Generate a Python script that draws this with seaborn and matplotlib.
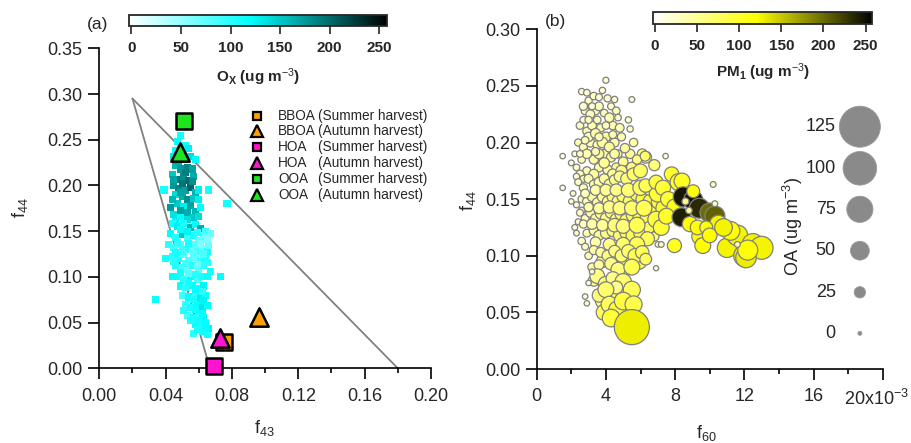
import numpy as np
import pandas as pd
import matplotlib
matplotlib.use("Agg")
import matplotlib.pyplot as plt
import matplotlib.transforms as mtransforms
import seaborn as sns
from matplotlib.colors import LinearSegmentedColormap, Normalize
from matplotlib.cm import ScalarMappable
from matplotlib.lines import Line2D

# ---------------- data: panel (a), f44 vs f43 coloured by Ox ----------------
a_f43 = [
    0.049, 0.047, 0.052, 0.045, 0.050, 0.055, 0.058, 0.046, 0.049, 0.053,
    0.056, 0.044, 0.047, 0.051, 0.054, 0.057, 0.045, 0.048, 0.052, 0.055,
    0.058, 0.046, 0.050, 0.053, 0.060, 0.039, 0.066, 0.077, 0.043, 0.047,
    0.051, 0.055, 0.058, 0.061, 0.045, 0.049, 0.053, 0.057, 0.060,
    0.046, 0.054, 0.048, 0.052, 0.045, 0.050, 0.056, 0.049, 0.044, 0.057,
    0.049, 0.053, 0.046, 0.060,
    0.044, 0.047, 0.051, 0.055, 0.058, 0.061, 0.064, 0.067, 0.043, 0.046,
    0.050, 0.053, 0.057, 0.060, 0.063, 0.042, 0.045, 0.049, 0.052, 0.056,
    0.059, 0.062, 0.065, 0.044, 0.048, 0.051, 0.054, 0.058, 0.061, 0.064,
    0.040, 0.046, 0.050, 0.053, 0.056, 0.060, 0.063, 0.067, 0.073, 0.047,
    0.051, 0.055, 0.059, 0.062,
    0.049, 0.053, 0.059, 0.065, 0.047, 0.054, 0.058, 0.061, 0.066, 0.046,
    0.050, 0.057, 0.063, 0.045, 0.052, 0.059, 0.065, 0.049, 0.054, 0.058,
    0.065, 0.044,
    0.049, 0.052, 0.056, 0.060, 0.063, 0.050, 0.054, 0.058, 0.061, 0.064,
    0.034, 0.052, 0.055, 0.059, 0.062, 0.065, 0.053, 0.057, 0.060, 0.063,
    0.058, 0.061, 0.064, 0.062, 0.065, 0.057, 0.066,
    0.054, 0.058, 0.062, 0.057, 0.063, 0.051, 0.058, 0.062, 0.055, 0.060,
    0.064, 0.059,
]
a_f44 = [
    0.255, 0.248, 0.244, 0.232, 0.228, 0.232, 0.228, 0.222, 0.218, 0.220,
    0.218, 0.212, 0.207, 0.210, 0.205, 0.210, 0.200, 0.197, 0.195, 0.198,
    0.192, 0.190, 0.188, 0.185, 0.195, 0.195, 0.195, 0.180, 0.176, 0.180,
    0.177, 0.178, 0.172, 0.176, 0.168, 0.166, 0.170, 0.165, 0.166,
    0.238, 0.240, 0.226, 0.214, 0.206, 0.202, 0.204, 0.192, 0.185, 0.186,
    0.173, 0.163, 0.160, 0.185,
    0.158, 0.155, 0.158, 0.154, 0.157, 0.153, 0.150, 0.147, 0.147, 0.143,
    0.146, 0.142, 0.145, 0.140, 0.143, 0.135, 0.132, 0.135, 0.130, 0.133,
    0.128, 0.131, 0.128, 0.122, 0.120, 0.124, 0.118, 0.121, 0.117, 0.121,
    0.120, 0.112, 0.110, 0.108, 0.112, 0.108, 0.112, 0.106, 0.100, 0.100,
    0.097, 0.100, 0.097, 0.100,
    0.152, 0.150, 0.149, 0.141, 0.138, 0.137, 0.135, 0.136, 0.134, 0.127,
    0.128, 0.126, 0.125, 0.117, 0.115, 0.114, 0.116, 0.105, 0.104, 0.103,
    0.100, 0.100,
    0.090, 0.088, 0.091, 0.087, 0.090, 0.080, 0.078, 0.082, 0.077, 0.080,
    0.075, 0.070, 0.067, 0.070, 0.066, 0.069, 0.058, 0.056, 0.060, 0.055,
    0.048, 0.046, 0.050, 0.040, 0.037, 0.038, 0.044,
    0.093, 0.086, 0.084, 0.075, 0.074, 0.063, 0.064, 0.060, 0.052, 0.052,
    0.044, 0.042,
]
a_ox = [
    110, 120, 115, 130, 150, 140, 120, 160, 175, 185,
    170, 150, 190, 180, 200, 165, 175, 185, 170, 205,
    160, 140, 165, 180, 130, 110, 110, 110, 175, 150,
    130, 170, 160, 120, 135, 120, 165, 150, 140,
    120, 130, 165, 190, 170, 195, 180, 170, 160, 150,
    170, 140, 125, 130,
    110, 130, 110, 160, 120, 165, 90, 70, 120, 105,
    150, 90, 110, 80, 75, 100, 90, 80, 100, 70,
    90, 65, 110, 100, 110, 70, 85, 75, 95, 110,
    110, 105, 90, 70, 100, 80, 100, 110, 120, 115,
    100, 120, 90, 110,
    115, 125, 100, 60, 100, 110, 80, 60, 70, 110,
    95, 80, 85, 100, 90, 70, 100, 110, 80, 100,
    115, 120,
    115, 100, 120, 110, 125, 90, 120, 100, 130, 115,
    115, 95, 110, 120, 135, 120, 90, 110, 100, 125,
    120, 110, 120, 115, 110, 100, 125,
    110, 120, 100, 110, 125, 100, 115, 120, 105, 115,
    120, 110,
]

# PMF factor profiles
em_factor = ["BBOA", "BBOA", "HOA", "HOA", "OOA", "OOA"]
em_season = ["Summer harvest", "Autumn harvest"] * 3
em_f43 = [0.0751, 0.0960, 0.0693, 0.0727, 0.0512, 0.0488]
em_f44 = [0.0291, 0.0560, 0.0030, 0.0328, 0.2708, 0.2370]

# triangle boundaries (f43, f44)
tri_left_f43 = [0.020, 0.0667]
tri_left_f44 = [0.295, 0.000]
tri_right_f43 = [0.020, 0.180]
tri_right_f44 = [0.295, 0.000]

# ---------------- data: panel (b), f44 vs f60 (x1e-3) sized by OA, coloured by PM1 ----------------
b_f60 = [
    2.6, 3.0, 2.8, 3.3, 3.6, 3.8, 4.1, 4.3, 3.4, 3.9,
    2.5, 2.9, 3.2, 3.7, 4.4, 2.4, 2.7, 3.1, 3.5, 4.0,
    4.5, 4.9, 3.3, 2.6, 2.3, 3.9, 4.3, 4.7, 5.3, 5.4,
    5.5, 4.0, 2.2, 1.5, 1.5, 2.0, 3.6, 2.9, 4.1, 4.6,
    5.0, 5.4, 5.6, 6.1, 6.3, 6.8, 7.45,
    2.7, 3.1, 3.6, 4.2, 4.6, 4.8, 3.0, 3.4, 3.8, 4.2,
    2.9, 3.6, 4.5, 5.1, 2.5, 3.3, 3.9, 4.4, 4.9, 5.5,
    5.8,
    2.9, 3.2, 3.5, 4.0, 2.7, 3.0, 4.5, 4.7, 2.8, 3.6,
    4.4, 2.5, 3.4, 2.3, 2.7, 2.3, 2.6, 2.4,
    2.4, 2.7, 3.0, 3.3, 3.6, 3.9, 4.2, 4.5, 4.8, 5.2,
    5.6, 6.0, 2.6, 2.9, 3.2, 3.5, 3.8, 4.1, 4.4, 4.7,
    5.0, 5.4, 5.8, 6.2, 6.6, 2.1, 2.5, 2.8, 3.1, 3.4,
    3.7, 4.0, 4.3, 4.6, 4.9, 5.2, 5.6, 6.0, 6.4, 6.8,
    7.1, 7.4, 2.2, 2.3, 2.9, 3.3, 3.6, 4.0, 4.4, 4.8,
    5.2, 5.6, 6.0, 6.5, 6.8, 7.0,
    2.8, 3.4, 4.0, 4.6, 5.3, 6.0, 6.6, 7.0, 3.0, 3.6,
    4.2, 4.8, 5.5, 6.2, 6.9, 2.7, 3.2, 3.8, 4.5, 5.0,
    5.8, 6.4, 7.2, 2.6, 3.4, 4.2, 5.0, 5.8,
    3.8, 5.1, 5.9, 3.3, 4.8, 3.8, 4.5, 5.2, 3.9, 5.2,
    2.8, 3.0, 3.3, 3.7, 4.1, 4.5, 4.9, 5.3, 5.7, 6.1,
    6.3, 3.2, 3.6, 4.3, 4.7, 5.5, 3.5, 4.0, 4.4, 5.0,
    4.6, 5.5, 3.2, 3.0, 2.8, 2.9, 2.0, 3.6, 4.0, 4.2,
    4.7, 5.0, 5.6, 4.3, 5.5,
    6.3, 6.27, 6.9, 7.3, 7.8, 8.2, 8.4, 7.6, 8.0, 7.5,
    7.96, 6.9, 7.2, 8.47, 9.05, 8.37, 9.4, 10.0, 10.3, 9.05,
    8.86, 9.44, 9.3, 8.6, 8.8, 10.5, 9.6, 10.2, 10.3, 9.8,
    10.0, 11.0, 11.6, 12.0, 12.5, 13.0, 12.1, 11.2, 10.8, 12.2,
    11.6,
]
b_f44 = [
    0.245, 0.237, 0.228, 0.241, 0.240, 0.246, 0.239, 0.232, 0.228, 0.226,
    0.215, 0.210, 0.215, 0.213, 0.215, 0.200, 0.196, 0.200, 0.198, 0.205,
    0.200, 0.205, 0.185, 0.185, 0.178, 0.190, 0.187, 0.190, 0.220, 0.212,
    0.238, 0.255, 0.190, 0.188, 0.160, 0.182, 0.178, 0.175, 0.176, 0.178,
    0.183, 0.190, 0.200, 0.190, 0.187, 0.180, 0.188,
    0.232, 0.225, 0.232, 0.222, 0.228, 0.213, 0.205, 0.208, 0.200, 0.196,
    0.190, 0.190, 0.190, 0.195, 0.172, 0.172, 0.182, 0.172, 0.175, 0.178,
    0.185,
    0.244, 0.232, 0.220, 0.215, 0.220, 0.220, 0.238, 0.222, 0.202, 0.205,
    0.207, 0.190, 0.192, 0.170, 0.168, 0.145, 0.140, 0.130,
    0.165, 0.160, 0.168, 0.163, 0.165, 0.168, 0.163, 0.167, 0.170, 0.168,
    0.172, 0.175, 0.150, 0.148, 0.152, 0.147, 0.152, 0.148, 0.152, 0.148,
    0.153, 0.148, 0.155, 0.150, 0.148, 0.155, 0.138, 0.133, 0.138, 0.133,
    0.137, 0.133, 0.138, 0.132, 0.137, 0.131, 0.136, 0.133, 0.135, 0.140,
    0.148, 0.142, 0.125, 0.120, 0.120, 0.122, 0.118, 0.120, 0.122, 0.118,
    0.121, 0.118, 0.120, 0.125, 0.117, 0.110,
    0.155, 0.158, 0.158, 0.158, 0.158, 0.160, 0.160, 0.155, 0.143, 0.142,
    0.143, 0.142, 0.142, 0.142, 0.132, 0.128, 0.128, 0.127, 0.127, 0.126,
    0.127, 0.115, 0.125, 0.113, 0.112, 0.110, 0.110, 0.110,
    0.095, 0.093, 0.095, 0.078, 0.082, 0.060, 0.062, 0.067, 0.050, 0.050,
    0.108, 0.100, 0.105, 0.103, 0.100, 0.104, 0.100, 0.104, 0.100, 0.103,
    0.097, 0.090, 0.092, 0.093, 0.088, 0.090, 0.082, 0.075, 0.080, 0.077,
    0.072, 0.070, 0.086, 0.076, 0.064, 0.058, 0.148, 0.065, 0.070, 0.057,
    0.052, 0.060, 0.057, 0.045, 0.037,
    0.162, 0.188, 0.165, 0.160, 0.172, 0.165, 0.166, 0.150, 0.143, 0.135,
    0.109, 0.089, 0.110, 0.152, 0.149, 0.134, 0.142, 0.138, 0.135, 0.157,
    0.128, 0.117, 0.125, 0.148, 0.140, 0.128, 0.109, 0.163, 0.146, 0.125,
    0.118, 0.107, 0.118, 0.100, 0.110, 0.107, 0.0985, 0.122, 0.125, 0.105,
    0.110,
]
b_oa = [
    8, 11, 13, 12, 10, 8, 11, 10, 14, 12,
    12, 14, 16, 14, 15, 11, 14, 17, 15, 19,
    17, 14, 18, 12, 9, 17, 18, 14, 8, 8,
    6, 7, 6, 5, 5, 6, 17, 14, 18, 17,
    19, 18, 15, 20, 26, 24, 5,
    14, 16, 16, 18, 12, 16, 18, 20, 22, 20,
    18, 20, 19, 18, 14, 20, 22, 22, 24, 22,
    18,
    9, 10, 12, 12, 10, 11, 8, 9, 12, 14,
    13, 9, 14, 8, 10, 7, 9, 7,
    10, 14, 17, 16, 19, 20, 22, 21, 24, 27,
    30, 33, 11, 16, 18, 19, 21, 22, 25, 27,
    30, 33, 36, 40, 38, 6, 10, 13, 17, 19,
    22, 24, 25, 28, 30, 33, 36, 38, 35, 32,
    42, 46, 6, 6, 13, 17, 20, 23, 26, 29,
    34, 37, 32, 26, 18, 5,
    16, 22, 26, 28, 34, 38, 40, 44, 18, 24,
    28, 32, 36, 40, 42, 14, 22, 26, 32, 34,
    40, 34, 40, 12, 22, 28, 34, 38,
    28, 38, 40, 24, 42, 34, 40, 44, 40, 46,
    10, 12, 17, 20, 24, 26, 29, 32, 36, 32,
    26, 15, 20, 29, 34, 40, 36, 38, 32, 42,
    30, 44, 5, 5, 5, 5, 5, 32, 40, 42,
    50, 46, 44, 46, 105,
    32, 20, 34, 38, 36, 44, 40, 38, 42, 40,
    34, 4, 6, 54, 52, 50, 54, 52, 54, 30,
    38, 42, 36, 10, 8, 46, 40, 6, 6, 30,
    36, 52, 56, 58, 60, 64, 56, 50, 46, 54,
    6,
]
b_pm1 = [
    20, 25, 30, 25, 20, 20, 25, 25, 30, 30,
    30, 35, 35, 35, 35, 30, 35, 40, 35, 45,
    40, 35, 40, 30, 25, 40, 45, 35, 25, 25,
    20, 20, 20, 15, 15, 20, 40, 35, 45, 45,
    50, 50, 45, 60, 70, 65, 20,
    25, 30, 30, 35, 30, 35, 35, 40, 45, 45,
    35, 45, 45, 45, 30, 45, 50, 50, 55, 60,
    55,
    20, 25, 30, 30, 25, 30, 20, 25, 30, 35,
    35, 25, 35, 25, 30, 20, 25, 20,
    25, 30, 35, 35, 40, 45, 50, 50, 55, 60,
    70, 75, 30, 35, 40, 45, 45, 50, 55, 60,
    65, 70, 80, 85, 85, 20, 25, 30, 40, 45,
    50, 55, 55, 60, 65, 70, 75, 80, 85, 85,
    90, 100, 20, 20, 35, 40, 45, 55, 60, 65,
    75, 80, 80, 75, 60, 30,
    30, 40, 50, 55, 65, 75, 85, 95, 35, 45,
    55, 60, 70, 80, 90, 30, 40, 50, 60, 65,
    80, 80, 95, 25, 40, 55, 70, 80,
    50, 70, 80, 45, 75, 65, 80, 85, 80, 100,
    30, 35, 40, 45, 55, 60, 65, 70, 80, 80,
    75, 40, 45, 55, 60, 80, 55, 60, 55, 70,
    50, 80, 20, 20, 20, 20, 20, 60, 70, 75,
    95, 90, 85, 95, 130,
    80, 70, 90, 95, 100, 105, 105, 95, 110, 100,
    105, 20, 30, 245, 250, 240, 235, 200, 205, 115,
    120, 120, 115, 60, 40, 125, 120, 30, 30, 110,
    120, 125, 125, 130, 125, 125, 130, 120, 125, 120,
    40,
]

oa_legend_values = [125, 100, 75, 50, 25, 0]
colorbar_ticks = [0, 50, 100, 150, 200, 250]

# ---------------- styling ----------------
sns.set_style("ticks")
plt.rcParams["font.family"] = ["Liberation Sans", "DejaVu Sans"]
plt.rcParams["mathtext.fontset"] = "custom"
plt.rcParams["mathtext.rm"] = "Liberation Sans"
plt.rcParams["mathtext.it"] = "Liberation Sans:italic"
plt.rcParams["mathtext.bf"] = "Liberation Sans:bold"

cmap_ox = LinearSegmentedColormap.from_list(
    "ox", [(0.0, "#ffffff"), (0.47, "#00ffff"), (1.0, "#000000")])
cmap_pm = LinearSegmentedColormap.from_list(
    "pm", [(0.0, "#ffffff"), (0.47, "#ffff00"), (1.0, "#000000")])
conc_norm = Normalize(vmin=-2, vmax=258)

factor_colors = {"BBOA": "#ff9f00", "HOA": "#ff14d2", "OOA": "#1ee61e"}
season_markers = {"Summer harvest": "s", "Autumn harvest": "^"}

W, H = 912, 443
fig = plt.figure(figsize=(W / 100, H / 100), dpi=100)


def fx(px):
    return px / W


def fy(py):
    return 1 - py / H


def style_axis(ax):
    for side in ("left", "bottom"):
        ax.spines[side].set_linewidth(1.2)
        ax.spines[side].set_color("black")
    ax.tick_params(which="major", direction="out", length=8, width=1.2,
                   labelsize=13, pad=4, color="black")
    ax.tick_params(which="minor", direction="out", length=3.8, width=1.2,
                   color="black")
    ax.tick_params(axis="y", which="minor", length=0)


# ---------------- panel (a) ----------------
ax_a = fig.add_axes([fx(99.3), fy(368.3), fx(431) - fx(99.3), fy(48.3) - fy(368.3)])
ax_a.plot(tri_left_f43, tri_left_f44, color="#808080", lw=1.3, zorder=1)
ax_a.plot(tri_right_f43, tri_right_f44, color="#808080", lw=1.3, zorder=1)

df_a = pd.DataFrame({"f43": a_f43, "f44": a_f44, "ox": a_ox})
sns.scatterplot(data=df_a, x="f43", y="f44", hue="ox", palette=cmap_ox,
                hue_norm=conc_norm, marker="s", s=26, linewidth=0,
                legend=False, ax=ax_a, zorder=2)

for fac, sea, x, y in zip(em_factor, em_season, em_f43, em_f44):
    mk = season_markers[sea]
    size = 118 if mk == "s" else 175
    ax_a.scatter([x], [y], marker=mk, s=size, facecolor=factor_colors[fac],
                 edgecolor="black", linewidth=1.8, zorder=4, clip_on=False)

ax_a.set_xlim(0, 0.20)
ax_a.set_ylim(0, 0.35)
ax_a.set_xticks(np.arange(0, 0.201, 0.04))
ax_a.set_xticks(np.arange(0.02, 0.2, 0.04), minor=True)
ax_a.set_xticklabels([f"{v:.2f}" for v in np.arange(0, 0.201, 0.04)])
ax_a.set_yticks(np.arange(0, 0.351, 0.05))
ax_a.set_yticklabels([f"{v:.2f}" for v in np.arange(0, 0.351, 0.05)])
sns.despine(ax=ax_a)
style_axis(ax_a)
ax_a.tick_params(axis="x", which="major", pad=6)
ax_a.set_xlabel("f$_{43}$", fontsize=13)
ax_a.set_ylabel("f$_{44}$", fontsize=13)
ax_a.xaxis.label.set_va("center")
ax_a.yaxis.label.set_va("center")
ax_a.xaxis.set_label_coords(0.499, -0.187)
ax_a.yaxis.set_label_coords(-0.239, 0.501)

# factor legend
leg_rows = [115.7, 131.3, 147.0, 163.0, 179.0, 195.0]
for row, fac, sea in zip(leg_rows, em_factor, em_season):
    mk = season_markers[sea]
    fig.add_artist(Line2D([fx(256.7)], [fy(row)], marker=mk,
                          markersize=6 if mk == "s" else 8,
                          markerfacecolor=factor_colors[fac],
                          markeredgecolor="black", markeredgewidth=1.6,
                          linestyle="none", transform=fig.transFigure))
    fig.text(fx(278.3), fy(row), fac, fontsize=9.8, va="center", ha="left")
    fig.text(fx(318), fy(row), f"({sea})", fontsize=9.8, va="center", ha="left")

# colour bar for Ox
cax_a = fig.add_axes([fx(129.3), fy(26), fx(387.3) - fx(129.3), fy(15) - fy(26)])
cb_a = fig.colorbar(ScalarMappable(norm=conc_norm, cmap=cmap_ox), cax=cax_a,
                    orientation="horizontal", ticks=colorbar_ticks)
cb_a.outline.set_linewidth(1.3)
cax_a.tick_params(direction="out", length=6, width=1.2, labelsize=11, pad=5)
for lbl in cax_a.get_xticklabels():
    lbl.set_fontweight("bold")
cax_a.set_xlabel(r"$\mathbf{O_X}$ (ug m$^{-3}$)", fontsize=11, fontweight="bold")
cax_a.xaxis.label.set_va("center")
cax_a.xaxis.set_label_coords(0.5, -(76.7 - 26) / 11)

fig.text(fx(97.8), fy(24), "(a)", fontsize=12.5, ha="center", va="center")

# ---------------- panel (b) ----------------
ax_b = fig.add_axes([fx(536.7), fy(369), fx(882.7) - fx(536.7), fy(29.3) - fy(369)])


def oa_area(oa):
    # marker diameter grows linearly with OA mass
    d_px = 4 + 0.296 * np.asarray(oa, dtype=float)
    return (d_px * 0.72) ** 2


df_b = pd.DataFrame({"f60": b_f60, "f44": b_f44, "oa": b_oa, "pm1": b_pm1})
sns.scatterplot(data=df_b, x="f60", y="f44", hue="pm1", palette=cmap_pm,
                hue_norm=conc_norm, s=oa_area(df_b["oa"]), edgecolor="#7f7f7f",
                linewidth=0.9, legend=False, ax=ax_b, zorder=2)

ax_b.set_xlim(0, 20)
ax_b.set_ylim(0, 0.30)
ax_b.set_xticks([0, 4, 8, 12, 16, 20])
ax_b.set_xticklabels(["0", "4", "8", "12", "16", "20x10$^{-3}$"])
ax_b.set_xticks([2, 6, 10, 14, 18], minor=True)
ax_b.set_yticks(np.arange(0, 0.301, 0.05))
ax_b.set_yticklabels([f"{v:.2f}" for v in np.arange(0, 0.301, 0.05)])
sns.despine(ax=ax_b)
style_axis(ax_b)
ax_b.tick_params(axis="x", which="major", pad=6)
last_lbl = ax_b.get_xticklabels()[-1]
last_lbl.set_transform(last_lbl.get_transform()
                       + mtransforms.ScaledTranslation(-6 / 100, 0, fig.dpi_scale_trans))
ax_b.set_xlabel("f$_{60}$", fontsize=13)
ax_b.set_ylabel("f$_{44}$", fontsize=13)
ax_b.xaxis.label.set_va("center")
ax_b.yaxis.label.set_va("center")
ax_b.xaxis.set_label_coords(0.491, -0.188)
ax_b.yaxis.set_label_coords(-0.199, 0.497)

# OA size key
key_y = [(369 - py) / 339.7 for py in (126.7, 168.3, 209.3, 250.7, 292.3, 333.3)]
ax_b.scatter([0.934] * len(oa_legend_values), key_y, s=oa_area(oa_legend_values),
             facecolor="#8a8a8a", edgecolor="#9a9a9a", linewidth=0.6,
             transform=ax_b.transAxes, clip_on=False, zorder=3)
for v, y in zip(oa_legend_values, key_y):
    ax_b.text(0.864, y, str(v), transform=ax_b.transAxes, fontsize=13,
              ha="right", va="center")
fig.text(fx(793.3), fy(226.7), "OA (ug m$^{-3}$)", fontsize=13, rotation=90,
         ha="center", va="center")

# colour bar for PM1
cax_b = fig.add_axes([fx(653.3), fy(24), fx(872.3) - fx(653.3), fy(11.7) - fy(24)])
cb_b = fig.colorbar(ScalarMappable(norm=conc_norm, cmap=cmap_pm), cax=cax_b,
                    orientation="horizontal", ticks=colorbar_ticks)
cb_b.outline.set_linewidth(1.3)
cax_b.tick_params(direction="out", length=6, width=1.2, labelsize=11, pad=5)
for lbl in cax_b.get_xticklabels():
    lbl.set_fontweight("bold")
cax_b.set_xlabel(r"$\mathbf{PM_1}$ (ug m$^{-3}$)", fontsize=11, fontweight="bold")
cax_b.xaxis.label.set_va("center")
cax_b.xaxis.set_label_coords(0.5, -(71.7 - 24) / 12.3)

fig.text(fx(556), fy(21.7), "(b)", fontsize=12.5, ha="center", va="center")

fig.savefig("out.png", dpi=100, facecolor="white")
